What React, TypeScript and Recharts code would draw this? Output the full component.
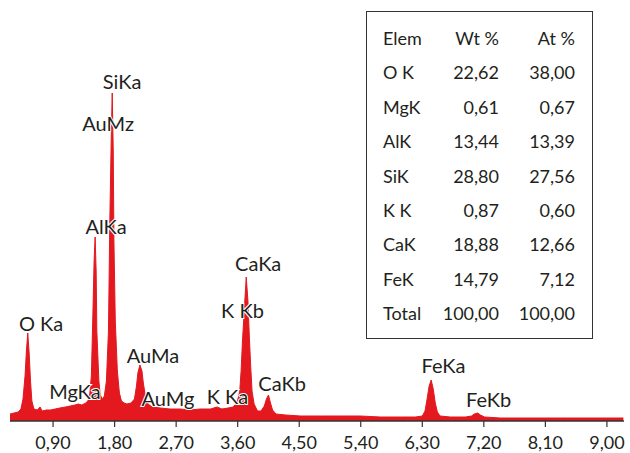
import { AreaChart, Area, XAxis, YAxis, ReferenceDot } from 'recharts';

// energy (keV) and counts
const energy = [
	0.27, 0.33, 0.39, 0.43, 0.46, 0.49, 0.51, 0.53, 0.55, 0.57, 0.59, 0.62, 0.67, 0.71, 0.74, 0.8, 0.86, 0.93,
	1.0, 1.08, 1.15, 1.22, 1.27, 1.32, 1.38, 1.43, 1.46, 1.48, 1.5, 1.515, 1.53, 1.54, 1.57, 1.59, 1.62, 1.65,
	1.68, 1.71, 1.73, 1.75, 1.765, 1.78, 1.79, 1.81, 1.84, 1.87, 1.9, 1.94, 1.98, 2.04, 2.09, 2.12, 2.14, 2.17,
	2.2, 2.22, 2.25, 2.29, 2.35, 2.47, 2.61, 2.76, 2.9, 3.05, 3.2, 3.3, 3.37, 3.46, 3.53, 3.59, 3.63, 3.65,
	3.67, 3.7, 3.725, 3.75, 3.77, 3.79, 3.81, 3.84, 3.89, 3.94, 3.99, 4.02, 4.05, 4.08, 4.11, 4.16, 4.3, 4.52,
	4.81, 5.1, 5.39, 5.69, 5.98, 6.2, 6.3, 6.34, 6.37, 6.4, 6.43, 6.46, 6.49, 6.52, 6.56, 6.71, 6.93, 7.02,
	7.06, 7.11, 7.15, 7.21, 7.44, 7.88, 8.32, 8.76, 9.24,
];
const counts = [
	7, 8, 9, 12, 22, 45, 70, 88, 68, 40, 20, 12, 11, 14, 10, 11, 11, 12,
	13, 14, 15, 16, 17, 16, 18, 22, 45, 100, 160, 184, 150, 90, 40, 26, 22, 25,
	40, 90, 200, 280, 328, 270, 180, 100, 50, 28, 20, 18, 17, 18, 22, 35, 48, 56,
	50, 38, 25, 17, 14, 13, 12, 12, 11, 12, 12, 14, 12, 13, 14, 18, 30, 50,
	80, 115, 144, 120, 85, 55, 30, 17, 10, 10, 15, 22, 26, 18, 11, 7, 6, 5,
	5, 5, 5, 4, 4, 4, 5, 10, 22, 35, 41, 32, 18, 9, 5, 4, 4, 5,
	7, 8, 6, 4, 3, 3, 3, 3, 3,
];

const ticks = [0.9, 1.8, 2.7, 3.6, 4.5, 5.4, 6.3, 7.2, 8.1, 9.0];

// peak labels: text, energy and height where the label sits
const peakNames = ['SiKa', 'AuMz', 'AlKa', 'CaKa', 'K Kb', 'O Ka', 'AuMa', 'MgKa', 'AuMg', 'K Ka', 'CaKb', 'FeKa', 'FeKb'];
const peakEnergy = [1.91, 1.705, 1.676, 3.9, 3.67, 0.725, 2.36, 1.22, 2.58, 3.45, 4.25, 6.61, 7.27];
const peakHeight = [340, 298, 195, 158, 111, 98, 66, 30, 23, 25, 38, 56, 22];

// quantification table
const elems = ['O K', 'MgK', 'AlK', 'SiK', 'K K', 'CaK', 'FeK', 'Total'];
const wtPct = ['22,62', '0,61', '13,44', '28,80', '0,87', '18,88', '14,79', '100,00'];
const atPct = ['38,00', '0,67', '13,39', '27,56', '0,60', '12,66', '7,12', '100,00'];

const data = energy.map((e, i) => ({ e, c: counts[i] }));

const FONT = 'Lato, "Open Sans", sans-serif';
const INK = '#231f20';
const RED = '#e3191f';

const fmt = (v: number) => v.toFixed(2).replace('.', ',');

function PeakText({ cx, cy, text }: any) {
	return (
		<text
			x={cx}
			y={cy}
			textAnchor="middle"
			dominantBaseline="central"
			fontFamily={FONT}
			fontSize={20}
			fill={INK}
			stroke="#fff"
			strokeWidth={2}
			paintOrder="stroke"
		>
			{text}
		</text>
	);
}

function ResultTable() {
	const rows = [['Elem', 'Wt %', 'At %'], ...elems.map((el, i) => [el, wtPct[i], atPct[i]])];
	return (
		<div
			style={{
				position: 'absolute',
				left: 366,
				top: 11,
				width: 227,
				height: 328,
				boxSizing: 'border-box',
				border: '1.5px solid #333',
				background: '#fff',
				fontFamily: FONT,
				fontSize: 18,
				color: INK,
			}}
		>
			{rows.map((r, i) => (
				<div key={i} style={{ position: 'absolute', top: 9 + i * 34.4, left: 0, width: '100%', height: 34, lineHeight: '34px' }}>
					<span style={{ position: 'absolute', left: 16 }}>{r[0]}</span>
					<span style={{ position: 'absolute', right: 93, textAlign: 'right' }}>{r[1]}</span>
					<span style={{ position: 'absolute', right: 17, textAlign: 'right' }}>{r[2]}</span>
				</div>
			))}
		</div>
	);
}

export default function App() {
	return (
		<div style={{ position: 'absolute', left: 0, top: 0, width: 630, height: 453, background: '#fff' }}>
			<AreaChart width={630} height={453} data={data} margin={{ top: 10, right: 6, bottom: 0, left: 10 }}>
				<XAxis
					dataKey="e"
					type="number"
					domain={[0.27, 9.25]}
					allowDataOverflow
					ticks={ticks}
					tickFormatter={fmt}
					height={32}
					tickSize={6}
					tickMargin={9}
					axisLine={{ stroke: '#333', strokeWidth: 1.5 }}
					tickLine={{ stroke: '#333', strokeWidth: 1.2 }}
					tick={{ fill: INK, fontSize: 18, fontFamily: FONT }}
				/>
				<YAxis hide domain={[0, 411]} />
				<Area
					type="linear"
					dataKey="c"
					stroke={RED}
					strokeWidth={1}
					fill={RED}
					fillOpacity={1}
					isAnimationActive={false}
				/>
				{peakNames.map((name, i) => (
					<ReferenceDot
						key={name}
						x={peakEnergy[i]}
						y={peakHeight[i]}
						r={0}
						ifOverflow="visible"
						shape={(p: any) => <PeakText cx={p.cx} cy={p.cy} text={name} />}
					/>
				))}
			</AreaChart>
			<ResultTable />
		</div>
	);
}
